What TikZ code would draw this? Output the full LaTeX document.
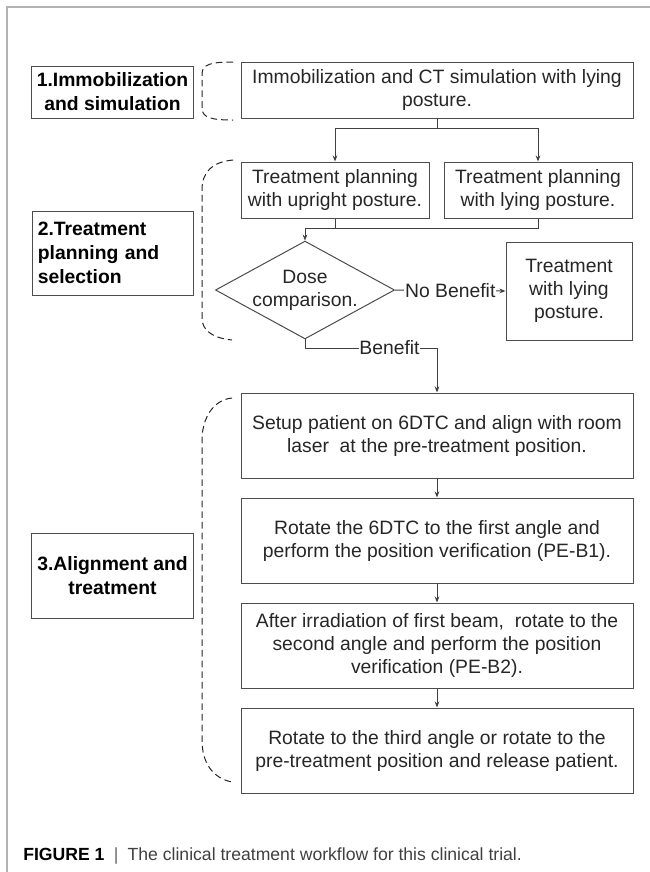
\documentclass[tikz,border=0pt]{standalone}
\usepackage{fontspec}
\setmainfont{Liberation Sans}
\usetikzlibrary{arrows.meta,shapes.geometric}

\begin{document}
\begin{tikzpicture}[
    x=0.75pt, y=-0.75pt,
    every node/.style={font=\fontsize{14.5}{17.25}\selectfont,text=black!85},
    stepbox/.style={rectangle,draw=black!70,line width=0.75pt,align=center,inner sep=2pt,minimum width=294pt,minimum height=63.75pt},
    stage/.style={rectangle,draw=black!70,line width=0.75pt,align=center,inner sep=4pt,minimum width=120.75pt,font=\fontsize{14.5}{18}\selectfont\bfseries,text=black},
    decision/.style={diamond,draw=black!70,line width=0.75pt,aspect=1.83,minimum width=132pt,minimum height=72pt,inner sep=0pt,align=center},
    link/.style={draw=black!75,line width=0.75pt},
    flow/.style={link,-{Stealth[length=4.5pt,width=3.5pt]}},
    bracket/.style={draw=black!85,line width=0.75pt,dash pattern=on 5pt off 3pt},
    border/.style={draw=black!30,line width=1pt}
]
    \useasboundingbox (0,0) rectangle (650,872);
    \draw[border] (7,872) -- (7,7) -- (650,7);

    % Stage labels on the left
    \node[stage,minimum height=39pt]    (immob)  at (112.5,92)  {1.Immobilization\\and simulation};
    \node[stage,minimum height=63pt,align=left,text width=112pt] (plan) at (112.5,253) {2.Treatment\\planning and\\selection};
    \node[stage,minimum height=63.75pt] (align)  at (112.5,575.5){3.Alignment and\\treatment};

    % Workflow steps
    \node[stepbox,minimum height=42pt]  (ct)       at (437,90)   {Immobilization and CT simulation with lying\\posture.};
    \node[stepbox,minimum width=141pt,minimum height=42pt] (upright)   at (335,190) {Treatment planning\\with upright posture.};
    \node[stepbox,minimum width=141pt,minimum height=42pt] (lyingplan) at (538,190) {Treatment planning\\with lying posture.};
    \node[decision]                     (dose)     at (305,290)  {Dose\\comparison.};
    \node[stepbox,minimum width=94.5pt,minimum height=73.5pt] (lyingtreat) at (569,291) {Treatment\\with lying\\posture.};
    \node[stepbox]                      (setup)    at (437,435.5){Setup patient on 6DTC and align with room\\laser\ \ at the pre-treatment position.};
    \node[stepbox]                      (rotfirst) at (437,540.5){Rotate the 6DTC to the first angle and\\perform the position verification (PE-B1).};
    \node[stepbox]                      (rotsecond)at (437,645.5){After irradiation of first beam,\ \ rotate to the\\second angle and perform the position\\verification (PE-B2).};
    \node[stepbox]                      (release)  at (437,750.5){Rotate to the third angle or rotate to the\\pre-treatment position and release patient.};

    % Branch and merge points
    \coordinate (split) at (437,128);
    \coordinate (merge) at (305,228);
    \coordinate (bend)  at (437,348);

    \draw[link] (ct.south) -- (split);
    \draw[flow] (split) -| (upright.north);
    \draw[flow] (split) -| (lyingplan.north);
    \draw[link] (upright.south) |- (merge);
    \draw[link] (lyingplan.south) |- (merge);
    \draw[flow] (merge) -- (dose.north);
    \draw[flow] (dose.east) -- node[fill=white,inner sep=0.5pt] {No Benefit} (lyingtreat.west);
    \draw[link] (dose.south) |- node[pos=0.82,fill=white,inner sep=0.5pt] {Benefit} (bend);
    \draw[flow] (bend) -- (setup.north);
    \draw[flow] (setup) -- (rotfirst);
    \draw[flow] (rotfirst) -- (rotsecond);
    \draw[flow] (rotsecond) -- (release);

    % Dashed brackets
    \draw[bracket] (233,62) .. controls (212,62) and (202,64) .. (202,74) -- (202,108) .. controls (202,118) and (212,120) .. (233,120);
    \draw[bracket] (233,160) .. controls (212,162) and (202,172) .. (202,190) -- (202,318) .. controls (202,330) and (212,338) .. (232,340);
    \draw[bracket] (232,398) .. controls (212,400) and (202,420) .. (202,440) -- (202,740) .. controls (202,762) and (212,778) .. (232,782);

    % Caption
    \node[anchor=base west,inner sep=0pt,font=\fontsize{13.2}{16}\selectfont,text=black] (caption) at (23,860)
        {\textbf{FIGURE 1}\hspace{7pt}{\color{black!60}|}\hspace{7pt}{\color{black!75}The clinical treatment workflow for this clinical trial.}};
\end{tikzpicture}
\end{document}
